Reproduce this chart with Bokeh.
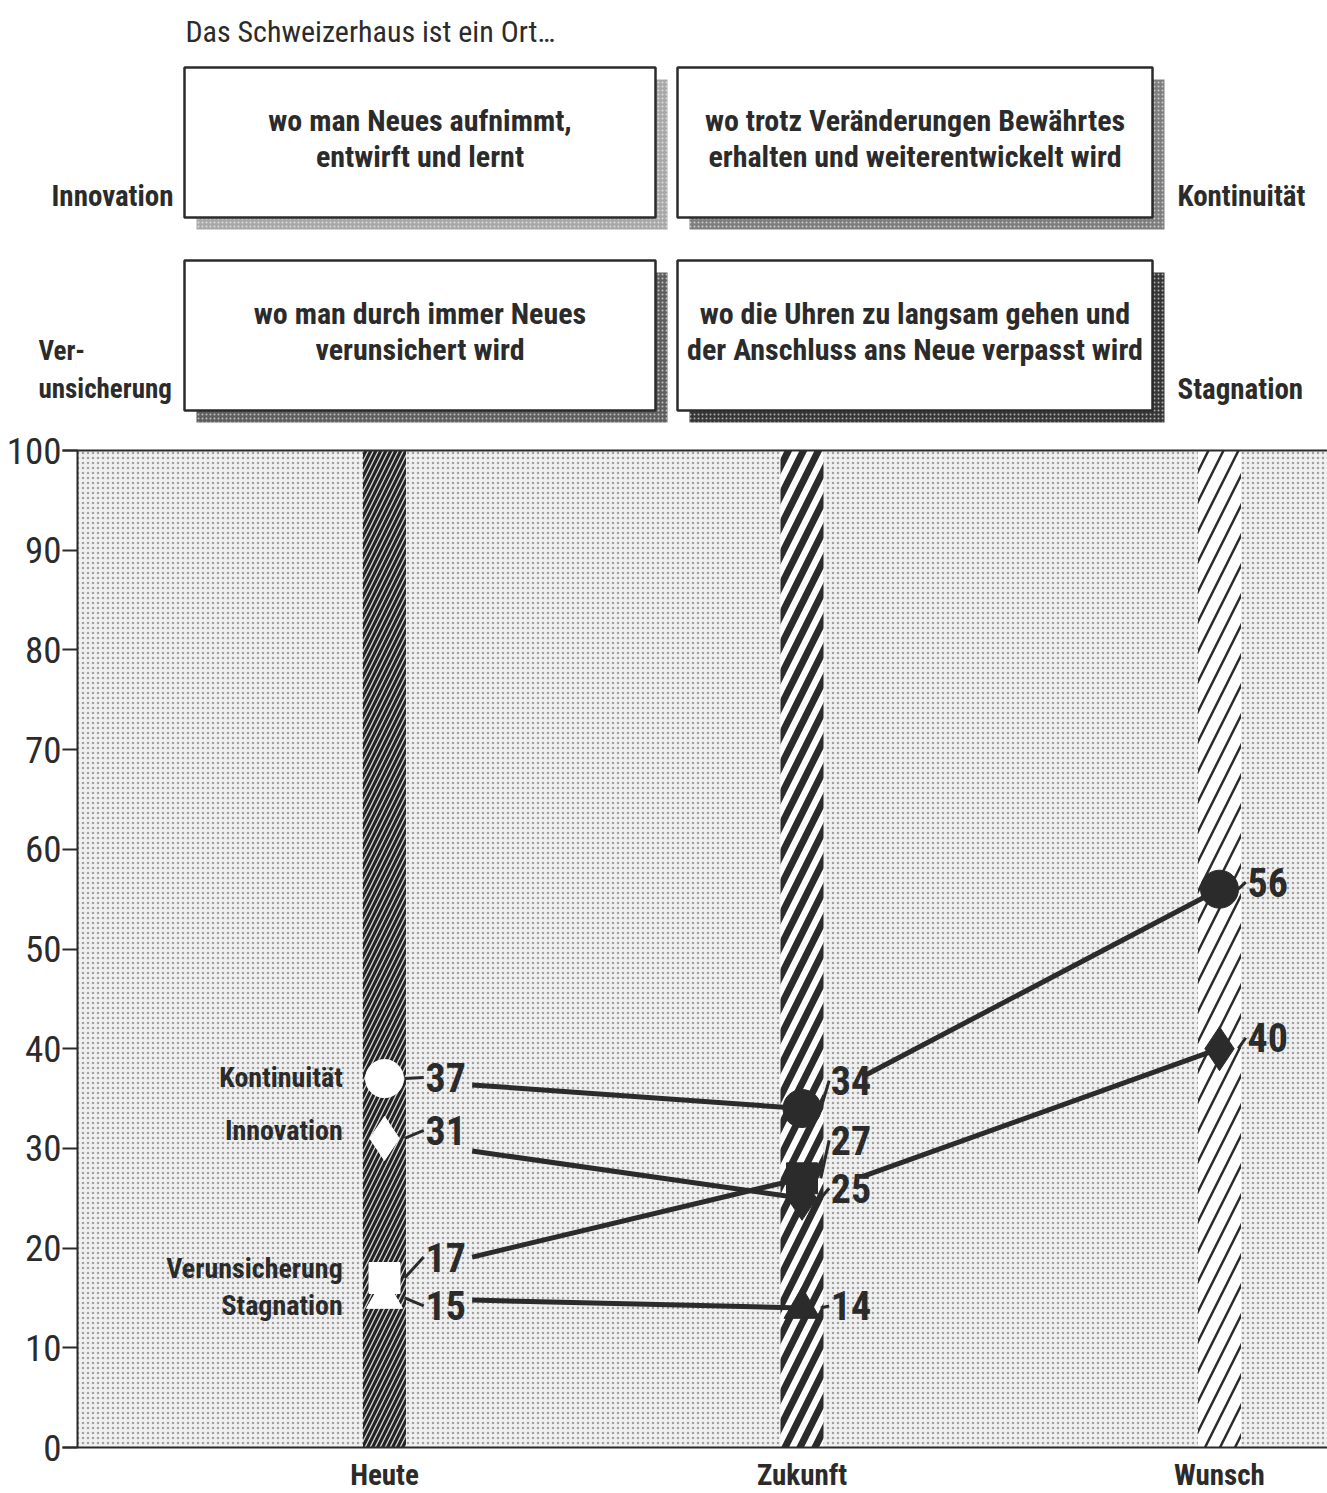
from bokeh.plotting import figure
from bokeh.models import Range1d, FixedTicker, BoxAnnotation, LinearAxis
from bokeh.core.properties import value
from bokeh.embed import file_html
from bokeh.resources import INLINE

# ---------------- data ----------------
categories = ["Heute", "Zukunft", "Wunsch"]
series_names = ["Kontinuität", "Innovation", "Verunsicherung", "Stagnation"]
kontinuitaet = [37, 34, 56]
innovation = [31, 25, 40]
verunsicherung = [17, 27]
stagnation = [15, 14]
y_ticks = [0, 10, 20, 30, 40, 50, 60, 70, 80, 90, 100]

title_text = "Das Schweizerhaus ist ein Ort…"
box_texts = [
    ["wo man Neues aufnimmt,", "entwirft und lernt"],
    ["wo trotz Veränderungen Bewährtes", "erhalten und weiterentwickelt wird"],
    ["wo man durch immer Neues", "verunsichert wird"],
    ["wo die Uhren zu langsam gehen und", "der Anschluss ans Neue verpasst wird"],
]

# ---------------- styling / layout ----------------
FONT = "'Roboto Condensed', 'DejaVu Sans Condensed', 'Liberation Sans Narrow', 'Open Sans', sans-serif"
DARK = "#2b2b2b"
W, H = 1327, 1493
AX_LEFT_PX = 77          # y axis position
AX_TOP_PX, AX_BOT_PX = 450, 1447   # y = 100 and y = 0
CAT0_PX = 384            # Heute
PX_PER_CAT = 417.5

px_per_val = (AX_BOT_PX - AX_TOP_PX) / 100.0
y0 = -(H - AX_BOT_PX) / px_per_val
y1 = 100 + AX_TOP_PX / px_per_val
xs = [1, 2, 3]
x0 = xs[0] - CAT0_PX / PX_PER_CAT
x1 = xs[0] + (W - CAT0_PX) / PX_PER_CAT
x_axis_loc = xs[0] - (CAT0_PX - AX_LEFT_PX) / PX_PER_CAT

p = figure(width=W, height=H, x_range=Range1d(x0, x1), y_range=Range1d(y0, y1),
           output_backend="svg", toolbar_location=None,
           x_axis_location=None, y_axis_location=None,
           min_border_left=0, min_border_right=0, min_border_top=0, min_border_bottom=0)
p.extra_x_ranges = {"px": Range1d(0, W)}
p.extra_y_ranges = {"px": Range1d(H, 0)}
p.grid.visible = False
p.outline_line_color = None
p.background_fill_color = "white"
p.border_fill_color = "white"

# ---------------- header ----------------
bx_l = [184, 677, 184, 677]
bx_r = [655, 1152, 655, 1152]
bx_t = [67, 67, 260, 260]
bx_b = [217, 217, 410, 410]
sh = 12
shadow_cols = ["#a8a8a8", "#7e7e7e", "#5e5e5e", "#363636"]
p.quad(left=[l + sh for l in bx_l], right=[r + sh for r in bx_r],
       top=[t + sh for t in bx_t], bottom=[b + sh for b in bx_b],
       fill_color=shadow_cols, line_color=None,
       hatch_pattern="dot", hatch_color="white", hatch_scale=4, hatch_weight=1, hatch_alpha=0.6,
       x_range_name="px", y_range_name="px")
p.quad(left=bx_l, right=bx_r, top=bx_t, bottom=bx_b,
       fill_color="white", line_color=DARK, line_width=2.5,
       x_range_name="px", y_range_name="px")

hx, hy, ht, ha, hs, hw = [], [], [], [], [], []


def hdr(x, y, t, align="left", size="29px", weight="bold"):
    hx.append(x); hy.append(y); ht.append(t); ha.append(align); hs.append(size); hw.append(weight)


for i, lines in enumerate(box_texts):
    cx = (bx_l[i] + bx_r[i]) / 2
    cy = (bx_t[i] + bx_b[i]) / 2
    for k, s in enumerate(lines):
        hdr(cx, cy - 22 + 36 * k, s, "center", "30px")
hdr(185, 31, title_text, "left", "30px", "normal")
hdr(173, 195, series_names[1], "right")
hdr(1177, 195, series_names[0])
hdr(1177, 388, series_names[3])
hdr(38, 350, "Ver-", "left", "27px")
hdr(38, 388, "unsicherung", "left", "27px")

for weight in ("bold", "normal"):
    idx = [i for i in range(len(ht)) if hw[i] == weight]
    p.text(x=[hx[i] for i in idx], y=[hy[i] for i in idx], text=[ht[i] for i in idx],
           text_align=[ha[i] for i in idx], text_font_size=[hs[i] for i in idx],
           text_font=value(FONT), text_font_style=weight, text_baseline="middle",
           text_color=DARK, x_range_name="px", y_range_name="px")

# ---------------- chart ----------------
p.add_layout(BoxAnnotation(left=x_axis_loc, bottom=0, top=100,
                           fill_color="#f0f0f0", fill_alpha=1, line_color=None,
                           hatch_pattern="dot", hatch_color="#8c8c8c", hatch_scale=5,
                           hatch_weight=1, hatch_alpha=0.8, level="underlay"))

band_w = 43 / PX_PER_CAT
p.vbar(x=[xs[0]], width=band_w, top=100, bottom=0, fill_color="#242424", line_color=None,
       hatch_pattern="right_diagonal_line", hatch_color="#d8d8d8", hatch_scale=10, hatch_weight=1.3)
p.vbar(x=[xs[1]], width=band_w, top=100, bottom=0, fill_color="white", line_color=None,
       hatch_pattern="right_diagonal_line", hatch_color=DARK, hatch_scale=30, hatch_weight=7)
p.vbar(x=[xs[2]], width=band_w, top=100, bottom=0, fill_color="white", line_color=None,
       hatch_pattern="right_diagonal_line", hatch_color=DARK, hatch_scale=30, hatch_weight=2.5)

# connecting lines (start after the value label, end at the marker)
f1, f2 = 0.21, 0.146
all_series = [kontinuitaet, innovation, verunsicherung, stagnation]
sx0, sy0, sx1, sy1 = [], [], [], []
for s in all_series:
    for j in range(len(s) - 1):
        f = f1 if j == 0 else f2
        sx0.append(xs[j] + f * (xs[j + 1] - xs[j]))
        sy0.append(s[j] + f * (s[j + 1] - s[j]))
        sx1.append(xs[j + 1])
        sy1.append(s[j + 1])
p.segment(x0=sx0, y0=sy0, x1=sx1, y1=sy1, line_color=DARK, line_width=5)

markers = ["circle", "diamond", "square", "triangle"]
msizes = [38, 44, 31, 36]
for s, m, ms in zip(all_series, markers, msizes):
    p.scatter(x=[xs[0]], y=[s[0]], marker=m, size=ms, fill_color="white", line_color="white",
              line_width=1)
    p.scatter(x=xs[1:len(s)], y=s[1:], marker=m, size=ms, fill_color=DARK, line_color=DARK,
              line_width=1)

# value labels (display positions in value units)
label_pos = {
    0: [37.1, 36.8, 56.7],
    1: [31.8, 26.0, 41.1],
    2: [19.1, 30.8],
    3: [14.2, 14.2],
}
lab_dx = [0.098, 0.069, 0.067]
lead_dx = [0.048, 0.045, 0.045]
lx, ly, lt, l0x, l0y, l1x, l1y = [], [], [], [], [], [], []
for si, s in enumerate(all_series):
    for j, v in enumerate(s):
        lx.append(xs[j] + lab_dx[j])
        ly.append(label_pos[si][j])
        lt.append(str(v))
        l0x.append(xs[j] + lead_dx[j])
        l0y.append(v)
        l1x.append(xs[j] + lab_dx[j] - 0.004)
        l1y.append(label_pos[si][j])
p.segment(x0=l0x, y0=l0y, x1=l1x, y1=l1y, line_color=DARK, line_width=3)
p.text(x=lx, y=ly, text=lt, text_font=value(FONT), text_font_size="40px",
       text_font_style="bold", text_align="left", text_baseline="middle", text_color=DARK)

# series names left of the Heute band
name_pos = [37.1, 31.8, 18.0, 14.2]
p.text(x=[xs[0] - 0.1] * 4, y=name_pos, text=series_names, text_font=value(FONT),
       text_font_style="bold", text_font_size="28px", text_align="right",
       text_baseline="middle", text_color=DARK)

# ---------------- axes ----------------
yax = LinearAxis(fixed_location=x_axis_loc, bounds=(0, 100), ticker=FixedTicker(ticks=y_ticks))
yax.axis_line_width = 2
yax.axis_line_color = DARK
yax.major_tick_line_width = 2
yax.major_tick_line_color = DARK
yax.major_tick_out = 15
yax.major_tick_in = 0
yax.minor_tick_line_color = None
yax.major_label_text_font = FONT
yax.major_label_text_font_size = "37px"
yax.major_label_text_color = DARK
yax.major_label_standoff = 1
p.add_layout(yax, "left")

xax = LinearAxis(fixed_location=0, bounds=(x_axis_loc - 15 / PX_PER_CAT, x1),
                 ticker=FixedTicker(ticks=xs))
xax.major_label_overrides = {x: c for x, c in zip(xs, categories)}
xax.axis_line_width = 2
xax.axis_line_color = DARK
xax.major_tick_line_color = None
xax.minor_tick_line_color = None
xax.major_label_text_font = FONT
xax.major_label_text_font_style = "bold"
xax.major_label_text_font_size = "29px"
xax.major_label_text_color = DARK
xax.major_label_standoff = 4
p.add_layout(xax, "below")

topax = LinearAxis(fixed_location=100, bounds=(x_axis_loc - 15 / PX_PER_CAT, x1),
                   ticker=FixedTicker(ticks=[]))
topax.axis_line_width = 2
topax.axis_line_color = DARK
topax.major_tick_line_color = None
topax.minor_tick_line_color = None
topax.major_label_text_font_size = "0px"
p.add_layout(topax, "above")

open("out.html", "w").write(file_html(p, INLINE))
